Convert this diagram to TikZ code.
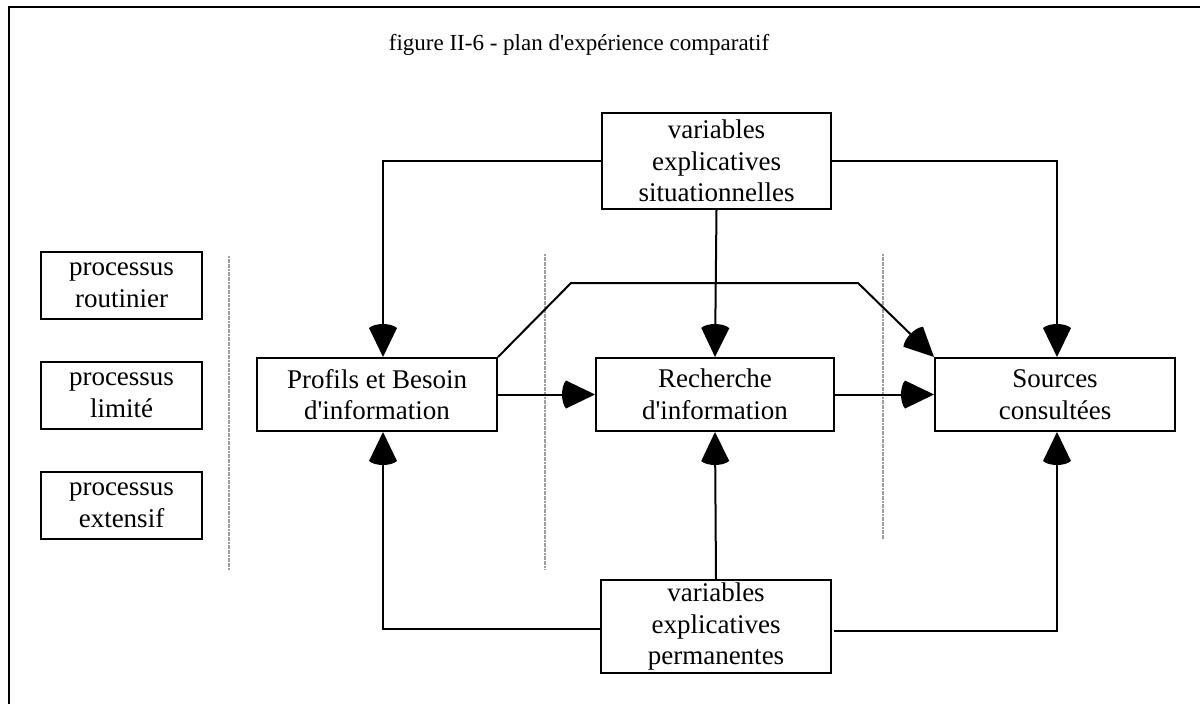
\documentclass[tikz,border=0pt]{standalone}
\usepackage{fontspec}
\setmainfont{Liberation Serif}
\usetikzlibrary{arrows.meta}
% large filled triangle head with a slightly rounded back
\pgfdeclarearrow{
  name = BigHead,
  setup code = {
    \pgfarrowssettipend{0pt}
    \pgfarrowssetlineend{-26pt}
    \pgfarrowssetvisualbackend{-33pt}
    \pgfarrowssetbackend{-33pt}
  },
  drawing code = {
    \pgfpathmoveto{\pgfpointorigin}
    \pgfpathlineto{\pgfpoint{-29pt}{14pt}}
    \pgfpathcurveto{\pgfpoint{-34.3pt}{8pt}}{\pgfpoint{-34.3pt}{-8pt}}{\pgfpoint{-29pt}{-14pt}}
    \pgfpathclose
    \pgfusepathqfill
  }
}
\begin{document}
\begin{tikzpicture}[x=1pt,y=-1pt,
  line width=2pt,
  every node/.style={font=\fontsize{27}{31.5}\selectfont, align=center, inner sep=0pt},
  box/.style={draw, line width=2pt},
  arr/.style={-BigHead},
  sep/.style={draw=black!38, line width=2.5pt, dash pattern=on 2pt off 0.6pt}]
\useasboundingbox (0,0) rectangle (1200,704);
% open frame
\draw (9,720) -- (9,7) -- (1210,7);
% title
\node[font=\fontsize{23}{28}\selectfont] (title) at (579,45) {figure II-6 - plan d\textquotesingle expérience comparatif};
% process categories
\node[box, minimum width=161pt, minimum height=67pt] (rout) at (121.5,285.5) {processus\\routinier};
\node[box, minimum width=161pt, minimum height=67pt] (lim) at (121.5,395.5) {processus\\limité};
\node[box, minimum width=161pt, minimum height=67pt] (ext) at (121.5,505.5) {processus\\extensif};
% separators
\draw[sep] (229,256) -- (229,570);
\draw[sep] (545,254) -- (545,570);
\draw[sep] (883,254) -- (883,539);
% main chain
\node[box, minimum width=240pt, minimum height=73pt] (prof) at (377,394.5) {Profils et Besoin\\d\textquotesingle information};
\node[box, minimum width=238pt, minimum height=73pt] (rech) at (715,394.5) {Recherche\\d\textquotesingle information};
\node[box, minimum width=240pt, minimum height=73pt] (src) at (1055,394.5) {Sources\\consultées};
% explanatory variables
\node[box, minimum width=229pt, minimum height=96pt] (sit) at (716.5,161) {variables\\explicatives\\situationnelles};
\node[box, minimum width=230pt, minimum height=93pt] (perm) at (716,626.5) {variables\\explicatives\\permanentes};
% connectors
\draw[arr] (sit.west) -| ([xshift=6pt]prof.north);
\draw[arr] (sit.east) -| ([xshift=2pt]src.north);
\draw[arr] (sit.south) -- (rech.north);
\draw[arr] (prof.east) -- (rech.west);
\draw[arr] (rech.east) -- (src.west);
\coordinate (b1) at (571,283);
\coordinate (b2) at (858,283);
\draw[arr] (prof.north east) -- (b1) -- (b2) -- (src.north west);
\draw[arr] ([yshift=-2pt]perm.west) -| ([xshift=6pt]prof.south);
\draw[arr] (perm.north) -- (rech.south);
\draw[arr] ([xshift=2pt,yshift=-4pt]perm.east) -| ([xshift=2pt]src.south);
\end{tikzpicture}
\end{document}
